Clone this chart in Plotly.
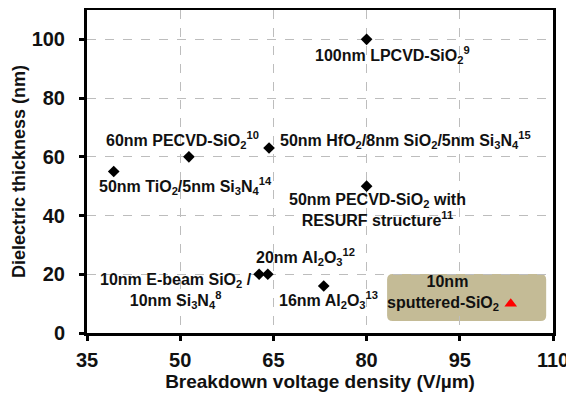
import plotly.graph_objects as go

# Data
ref_x = [80, 51.4, 64.3, 39.3, 80, 62.7, 64.1, 73.1]
ref_y = [100, 60, 63, 55, 50, 20, 20, 16]
this_x = [103.2]
this_y = [10]

labels = [
    "100nm LPCVD-SiO<sub>2</sub><sup>9</sup>",
    "60nm PECVD-SiO<sub>2</sub><sup>10</sup>",
    "50nm HfO<sub>2</sub>/8nm SiO<sub>2</sub>/5nm Si<sub>3</sub>N<sub>4</sub><sup>15</sup>",
    "50nm TiO<sub>2</sub>/5nm Si<sub>3</sub>N<sub>4</sub><sup>14</sup>",
    "50nm PECVD-SiO<sub>2</sub> with<br>RESURF structure<sup>11</sup>",
    "20nm Al<sub>2</sub>O<sub>3</sub><sup>12</sup>",
    "10nm E-beam SiO<sub>2</sub> /<br>10nm Si<sub>3</sub>N<sub>4</sub><sup>8</sup>",
    "16nm Al<sub>2</sub>O<sub>3</sub><sup>13</sup>",
    "10nm<br>sputtered-SiO<sub>2</sub>  ",
]
label_x = [84.1, 50.3, 86.3, 50.9, 81.7, 70.1, 49.3, 73.8, 93.1]
label_y = [94.7, 65.7, 65.7, 50.1, 41.9, 25.9, 14.3, 11.2, 13.6]

x_ticks = [35, 50, 65, 80, 95, 110]
y_ticks = [0, 20, 40, 60, 80, 100]

FONT = "Liberation Sans, Arial, sans-serif"
TXT = "#111111"

fig = go.Figure()

# tan highlight box (rounded)
bx0, bx1, by0, by1 = 83.3, 108.9, 4.1, 20.1
rx, ry = 0.9, 1.9
path = (f"M {bx0+rx},{by0} L {bx1-rx},{by0} Q {bx1},{by0} {bx1},{by0+ry} "
        f"L {bx1},{by1-ry} Q {bx1},{by1} {bx1-rx},{by1} L {bx0+rx},{by1} "
        f"Q {bx0},{by1} {bx0},{by1-ry} L {bx0},{by0+ry} Q {bx0},{by0} {bx0+rx},{by0} Z")
fig.add_shape(type="path", path=path, xref="x", yref="y",
              fillcolor="rgb(196,187,150)", line=dict(width=0), layer="below")

fig.add_trace(go.Scatter(x=ref_x, y=ref_y, mode="markers",
                         marker=dict(symbol="diamond", size=9, color="black"),
                         showlegend=False, cliponaxis=False))
fig.add_trace(go.Scatter(x=this_x, y=this_y, mode="markers",
                         marker=dict(symbol="triangle-up", size=11, color="red"),
                         showlegend=False))

for t, x, y in zip(labels, label_x, label_y):
    fig.add_annotation(x=x, y=y, xref="x", yref="y", text=t, showarrow=False,
                       font=dict(family=FONT, size=16, color=TXT, weight="bold"),
                       align="center")

axis_common = dict(
    showline=True, linecolor="black", linewidth=3, mirror=True,
    ticks="outside", ticklen=5, tickwidth=3, tickcolor="black",
    showgrid=True, gridcolor="#bdbdbd", gridwidth=1, griddash="dash",
    zeroline=False, automargin=False,
    tickfont=dict(family=FONT, size=20, color=TXT, weight="bold"),
)

fig.update_xaxes(range=[35, 110], tickvals=x_ticks, **axis_common,
                 ticklabelstandoff=2,
                 title=dict(text="Breakdown voltage density (V/µm)",
                            font=dict(family=FONT, size=19, color=TXT, weight="bold"),
                            standoff=0))
fig.update_yaxes(range=[0, 110], tickvals=y_ticks, **axis_common,
                 ticklabelstandoff=10,
                 title=dict(text="Dielectric thickness (nm)",
                            font=dict(family=FONT, size=18, color=TXT, weight="bold"),
                            standoff=2))

# page body has an 8px default margin, so the figure is sized 8px smaller
fig.update_layout(width=566, height=388,
                  margin=dict(l=79, r=21, t=2, b=63, autoexpand=False),
                  plot_bgcolor="white", paper_bgcolor="white")

fig.write_html("out.html")
